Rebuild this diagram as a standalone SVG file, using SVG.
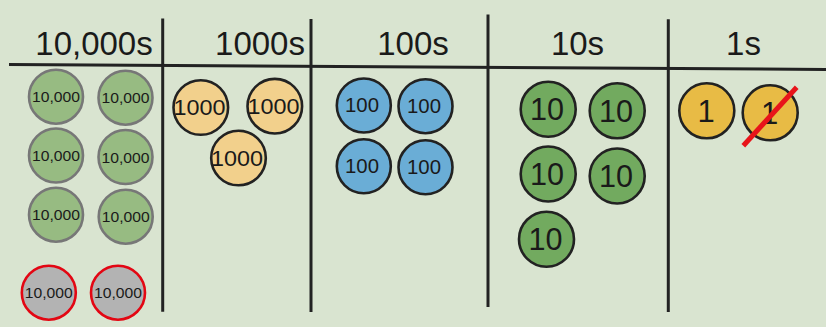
<svg xmlns="http://www.w3.org/2000/svg" width="826" height="327" viewBox="0 0 826 327">
<style>
.bg{fill:#d9e4d0}
.rule{stroke:#222;stroke-width:3;fill:none;stroke-linecap:butt}
.hdr{font-family:"Liberation Sans",Arial,sans-serif;font-size:33px;fill:#1a1a1a;text-anchor:middle}
.c{stroke-width:2.6}
.g1{fill:#97bb82;stroke:#777}
.rd{fill:#b3b3b3;stroke:#e30613}
.th{fill:#f2d08c;stroke:#222}
.hu{fill:#6aadd6;stroke:#222}
.te{fill:#72aa5f;stroke:#222}
.on{fill:#e8bb45;stroke:#222}
.t{font-family:"Liberation Sans",Arial,sans-serif;fill:#1a1a1a;text-anchor:middle}
.t5{font-size:15.5px}
.t4{font-size:22px}
.t3{font-size:20px}
.t2{font-size:31px}
</style>
<rect class="bg" x="0" y="0" width="826" height="327"/>
<g id="connectors">
<line class="rule" x1="9" y1="64.5" x2="826" y2="69.5"/>
<line class="rule" x1="162.7" y1="18.5" x2="162.7" y2="311.7"/>
<line class="rule" x1="311" y1="19" x2="311" y2="312"/>
<line class="rule" x1="488" y1="14.5" x2="488" y2="307"/>
<line class="rule" x1="668.3" y1="19.3" x2="668.3" y2="312"/>
</g>
<g id="headers">
<text class="hdr" x="94" y="54.5">10,000s</text>
<text class="hdr" x="260" y="54.5">1000s</text>
<text class="hdr" x="413" y="54.5">100s</text>
<text class="hdr" x="577.5" y="54.5">10s</text>
<text class="hdr" x="743.5" y="54.5">1s</text>
</g>
<g id="tenthousands">
<g id="tt1"><circle class="c g1" cx="56" cy="96.7" r="27"/><text class="t t5" x="56" y="102" textLength="48" lengthAdjust="spacingAndGlyphs">10,000</text></g>
<g id="tt2"><circle class="c g1" cx="125.5" cy="97.7" r="27"/><text class="t t5" x="125.5" y="103" textLength="48" lengthAdjust="spacingAndGlyphs">10,000</text></g>
<g id="tt3"><circle class="c g1" cx="56" cy="155.5" r="27"/><text class="t t5" x="56" y="161" textLength="48" lengthAdjust="spacingAndGlyphs">10,000</text></g>
<g id="tt4"><circle class="c g1" cx="125.5" cy="157" r="27"/><text class="t t5" x="125.5" y="162.5" textLength="48" lengthAdjust="spacingAndGlyphs">10,000</text></g>
<g id="tt5"><circle class="c g1" cx="56" cy="214.7" r="27"/><text class="t t5" x="56" y="220" textLength="48" lengthAdjust="spacingAndGlyphs">10,000</text></g>
<g id="tt6"><circle class="c g1" cx="125.7" cy="216.7" r="27"/><text class="t t5" x="125.7" y="222" textLength="48" lengthAdjust="spacingAndGlyphs">10,000</text></g>
<g id="tt7"><circle class="c rd" cx="48.8" cy="292.7" r="27"/><text class="t t5" x="48.8" y="298" textLength="48" lengthAdjust="spacingAndGlyphs">10,000</text></g>
<g id="tt8"><circle class="c rd" cx="118" cy="292.7" r="27"/><text class="t t5" x="118" y="298" textLength="48" lengthAdjust="spacingAndGlyphs">10,000</text></g>
</g>
<g id="thousands">
<g id="th1"><circle class="c th" cx="200.8" cy="107.5" r="27.3"/><text class="t t4" x="199.5" y="115" textLength="52" lengthAdjust="spacingAndGlyphs">1000</text></g>
<g id="th2"><circle class="c th" cx="274.8" cy="106.2" r="27.3"/><text class="t t4" x="273.5" y="114" textLength="52" lengthAdjust="spacingAndGlyphs">1000</text></g>
<g id="th3"><circle class="c th" cx="238.5" cy="158" r="27.3"/><text class="t t4" x="237" y="166" textLength="52" lengthAdjust="spacingAndGlyphs">1000</text></g>
</g>
<g id="hundreds">
<g id="hu1"><circle class="c hu" cx="363.8" cy="105.5" r="27"/><text class="t t3" x="362" y="112" textLength="34" lengthAdjust="spacingAndGlyphs">100</text></g>
<g id="hu2"><circle class="c hu" cx="425.5" cy="106.2" r="27"/><text class="t t3" x="424" y="113" textLength="34" lengthAdjust="spacingAndGlyphs">100</text></g>
<g id="hu3"><circle class="c hu" cx="363.8" cy="166.3" r="27"/><text class="t t3" x="362" y="173" textLength="34" lengthAdjust="spacingAndGlyphs">100</text></g>
<g id="hu4"><circle class="c hu" cx="425.5" cy="167.3" r="27"/><text class="t t3" x="424" y="174" textLength="34" lengthAdjust="spacingAndGlyphs">100</text></g>
</g>
<g id="tens">
<g id="te1"><circle class="c te" cx="548.2" cy="109.2" r="27.5"/><text class="t t2" x="547" y="120" textLength="34" lengthAdjust="spacingAndGlyphs">10</text></g>
<g id="te2"><circle class="c te" cx="617.2" cy="110.8" r="27.5"/><text class="t t2" x="616" y="121.5" textLength="34" lengthAdjust="spacingAndGlyphs">10</text></g>
<g id="te3"><circle class="c te" cx="548.2" cy="174" r="27.5"/><text class="t t2" x="547" y="185" textLength="34" lengthAdjust="spacingAndGlyphs">10</text></g>
<g id="te4"><circle class="c te" cx="617.2" cy="176" r="27.5"/><text class="t t2" x="616" y="187" textLength="34" lengthAdjust="spacingAndGlyphs">10</text></g>
<g id="te5"><circle class="c te" cx="546.5" cy="239.2" r="27.5"/><text class="t t2" x="545.5" y="250" textLength="34" lengthAdjust="spacingAndGlyphs">10</text></g>
</g>
<g id="ones">
<g id="on1"><circle class="c on" cx="706.8" cy="110.8" r="27.5"/><text class="t t2" x="706" y="121.5">1</text></g>
<g id="on2"><circle class="c on" cx="770.2" cy="112.8" r="27.5"/><text class="t t2" x="769.5" y="123.5">1</text></g>
<line x1="796.7" y1="87.3" x2="743.3" y2="145.7" stroke="#e8141a" stroke-width="5"/>
</g>
</svg>
